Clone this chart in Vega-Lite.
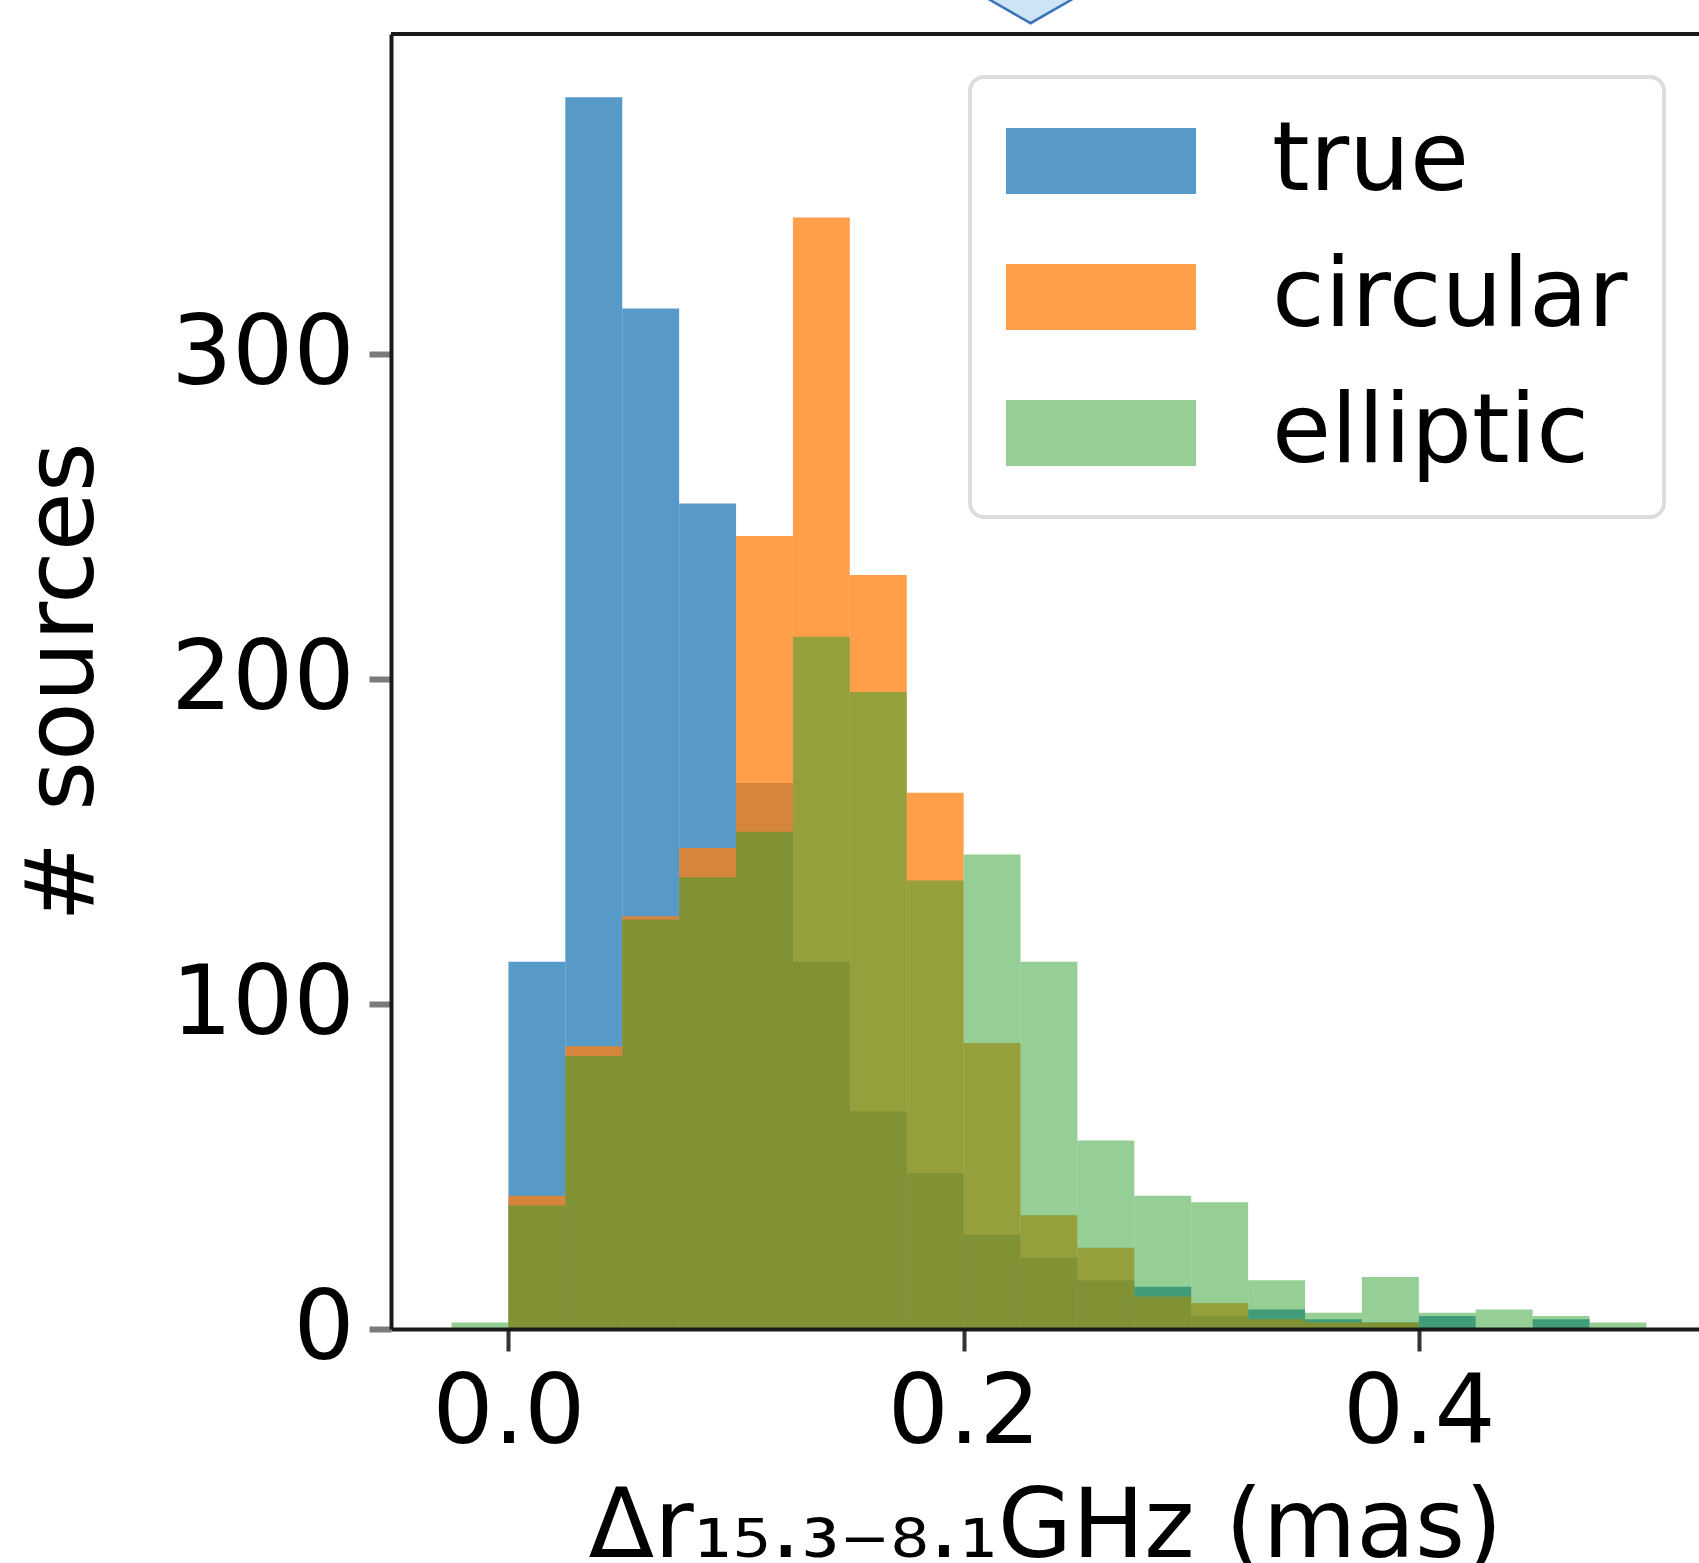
{
  "$schema": "https://vega.github.io/schema/vega-lite/v6.json",
  "width": 1308,
  "height": 1295,
  "autosize": {"type": "none"},
  "padding": {"left": 391, "top": 34, "right": 0, "bottom": 234},
  "background": "white",
  "config": {"view": {"stroke": null}, "font": "DejaVu Sans"},
  "datasets": {
    "hist": [
      {"bin_start": 0.000, "bin_end": 0.025, "series": "true", "count": 113},
      {"bin_start": 0.025, "bin_end": 0.050, "series": "true", "count": 379},
      {"bin_start": 0.050, "bin_end": 0.075, "series": "true", "count": 314},
      {"bin_start": 0.075, "bin_end": 0.100, "series": "true", "count": 254},
      {"bin_start": 0.100, "bin_end": 0.125, "series": "true", "count": 168},
      {"bin_start": 0.125, "bin_end": 0.150, "series": "true", "count": 113},
      {"bin_start": 0.150, "bin_end": 0.175, "series": "true", "count": 67},
      {"bin_start": 0.175, "bin_end": 0.200, "series": "true", "count": 48},
      {"bin_start": 0.200, "bin_end": 0.225, "series": "true", "count": 29},
      {"bin_start": 0.225, "bin_end": 0.250, "series": "true", "count": 22},
      {"bin_start": 0.250, "bin_end": 0.275, "series": "true", "count": 15},
      {"bin_start": 0.275, "bin_end": 0.300, "series": "true", "count": 13},
      {"bin_start": 0.300, "bin_end": 0.325, "series": "true", "count": 4},
      {"bin_start": 0.325, "bin_end": 0.350, "series": "true", "count": 6},
      {"bin_start": 0.350, "bin_end": 0.375, "series": "true", "count": 3},
      {"bin_start": 0.375, "bin_end": 0.400, "series": "true", "count": 2},
      {"bin_start": 0.400, "bin_end": 0.425, "series": "true", "count": 4},
      {"bin_start": 0.450, "bin_end": 0.475, "series": "true", "count": 3},
      {"bin_start": 0.000, "bin_end": 0.025, "series": "circular", "count": 41},
      {"bin_start": 0.025, "bin_end": 0.050, "series": "circular", "count": 87},
      {"bin_start": 0.050, "bin_end": 0.075, "series": "circular", "count": 127},
      {"bin_start": 0.075, "bin_end": 0.100, "series": "circular", "count": 148},
      {"bin_start": 0.100, "bin_end": 0.125, "series": "circular", "count": 244},
      {"bin_start": 0.125, "bin_end": 0.150, "series": "circular", "count": 342},
      {"bin_start": 0.150, "bin_end": 0.175, "series": "circular", "count": 232},
      {"bin_start": 0.175, "bin_end": 0.200, "series": "circular", "count": 165},
      {"bin_start": 0.200, "bin_end": 0.225, "series": "circular", "count": 88},
      {"bin_start": 0.225, "bin_end": 0.250, "series": "circular", "count": 35},
      {"bin_start": 0.250, "bin_end": 0.275, "series": "circular", "count": 25},
      {"bin_start": 0.275, "bin_end": 0.300, "series": "circular", "count": 10},
      {"bin_start": 0.300, "bin_end": 0.325, "series": "circular", "count": 8},
      {"bin_start": 0.325, "bin_end": 0.350, "series": "circular", "count": 3},
      {"bin_start": 0.350, "bin_end": 0.375, "series": "circular", "count": 2},
      {"bin_start": 0.375, "bin_end": 0.400, "series": "circular", "count": 2},
      {"bin_start": -0.025, "bin_end": 0.000, "series": "elliptic", "count": 2},
      {"bin_start": 0.000, "bin_end": 0.025, "series": "elliptic", "count": 38},
      {"bin_start": 0.025, "bin_end": 0.050, "series": "elliptic", "count": 84},
      {"bin_start": 0.050, "bin_end": 0.075, "series": "elliptic", "count": 126},
      {"bin_start": 0.075, "bin_end": 0.100, "series": "elliptic", "count": 139},
      {"bin_start": 0.100, "bin_end": 0.125, "series": "elliptic", "count": 153},
      {"bin_start": 0.125, "bin_end": 0.150, "series": "elliptic", "count": 213},
      {"bin_start": 0.150, "bin_end": 0.175, "series": "elliptic", "count": 196},
      {"bin_start": 0.175, "bin_end": 0.200, "series": "elliptic", "count": 138},
      {"bin_start": 0.200, "bin_end": 0.225, "series": "elliptic", "count": 146},
      {"bin_start": 0.225, "bin_end": 0.250, "series": "elliptic", "count": 113},
      {"bin_start": 0.250, "bin_end": 0.275, "series": "elliptic", "count": 58},
      {"bin_start": 0.275, "bin_end": 0.300, "series": "elliptic", "count": 41},
      {"bin_start": 0.300, "bin_end": 0.325, "series": "elliptic", "count": 39},
      {"bin_start": 0.325, "bin_end": 0.350, "series": "elliptic", "count": 15},
      {"bin_start": 0.350, "bin_end": 0.375, "series": "elliptic", "count": 5},
      {"bin_start": 0.375, "bin_end": 0.400, "series": "elliptic", "count": 16},
      {"bin_start": 0.400, "bin_end": 0.425, "series": "elliptic", "count": 5},
      {"bin_start": 0.425, "bin_end": 0.450, "series": "elliptic", "count": 6},
      {"bin_start": 0.450, "bin_end": 0.475, "series": "elliptic", "count": 4},
      {"bin_start": 0.475, "bin_end": 0.500, "series": "elliptic", "count": 2}
    ],
    "marker": [{"mx": 0.2294, "my": 408.9}],
    "frame": [{"top": 398.5}]
  },
  "layer": [
    {
      "data": {"name": "hist"},
      "mark": {"type": "bar", "strokeWidth": 0},
      "encoding": {
        "x": {
          "field": "bin_start",
          "type": "quantitative",
          "scale": {"domain": [-0.0516, 0.5231], "nice": false, "zero": false},
          "axis": {
            "values": [0, 0.2, 0.4],
            "format": ".1f",
            "title": "Δr₁₅.₃₋₈.₁GHz (mas)",
            "titleFont": "DejaVu Sans",
            "titleFontSize": 96,
            "titleFontWeight": "normal",
            "titleColor": "black",
            "titleBaseline": "alphabetic",
            "titleY": 227,
            "titleLimit": 0,
            "labelFont": "DejaVu Sans",
            "labelFontSize": 96,
            "labelColor": "black",
            "labelPadding": 15,
            "labelLimit": 0,
            "labelFlush": false,
            "labelOverlap": false,
            "tickSize": 22,
            "tickWidth": 4,
            "tickColor": "#333333",
            "domainColor": "#1a1a1a",
            "domainWidth": 4,
            "grid": false,
            "zindex": 1
          }
        },
        "x2": {"field": "bin_end"},
        "y": {
          "field": "count",
          "type": "quantitative",
          "stack": null,
          "scale": {"domain": [0, 398.5], "nice": false},
          "axis": {
            "values": [0, 100, 200, 300],
            "format": "d",
            "title": "# sources",
            "titleFont": "DejaVu Sans",
            "titleFontSize": 96,
            "titleFontWeight": "normal",
            "titleColor": "black",
            "titleBaseline": "alphabetic",
            "titleX": -299,
            "titleLimit": 0,
            "labelFont": "DejaVu Sans",
            "labelFontSize": 96,
            "labelColor": "black",
            "labelPadding": 15,
            "labelLimit": 0,
            "labelFlush": false,
            "labelOverlap": false,
            "tickSize": 22,
            "tickWidth": 6,
            "tickColor": "#7a7a7a",
            "domainColor": "#1a1a1a",
            "domainWidth": 4,
            "grid": false,
            "zindex": 1
          }
        },
        "y2": {"datum": 0},
        "color": {
          "field": "series",
          "type": "nominal",
          "scale": {
            "domain": ["true", "circular", "elliptic"],
            "range": ["rgba(31,119,180,0.75)", "rgba(255,127,14,0.75)", "rgba(44,160,44,0.5)"]
          },
          "legend": {
            "orient": "none",
            "legendX": 579,
            "legendY": 43,
            "title": null,
            "symbolType": "M-2.88,-1H2.88V1H-2.88Z",
            "symbolSize": 4356,
            "symbolStrokeWidth": 0,
            "symbolOffset": 47,
            "labelOffset": 123,
            "labelFont": "DejaVu Sans",
            "labelFontSize": 96,
            "labelColor": "black",
            "labelLimit": 0,
            "rowPadding": 40,
            "padding": 36,
            "strokeColor": "#dcdcdc",
            "fillColor": "white",
            "cornerRadius": 14,
            "encode": {"legend": {"update": {"strokeWidth": {"value": 4}}}}
          }
        }
      }
    },
    {
      "data": {"name": "frame"},
      "mark": {"type": "rule", "color": "#1a1a1a", "strokeWidth": 4},
      "encoding": {"y": {"field": "top", "type": "quantitative"}}
    },
    {
      "data": {"name": "marker"},
      "mark": {"type": "point", "shape": "M-3.48,-1L3.48,-1L0,1Z", "size": 2116, "filled": true, "fill": "#cde4f4", "stroke": "#3b74b8", "strokeWidth": 2.5, "opacity": 1},
      "encoding": {
        "x": {"field": "mx", "type": "quantitative"},
        "y": {"field": "my", "type": "quantitative"}
      }
    }
  ]
}
